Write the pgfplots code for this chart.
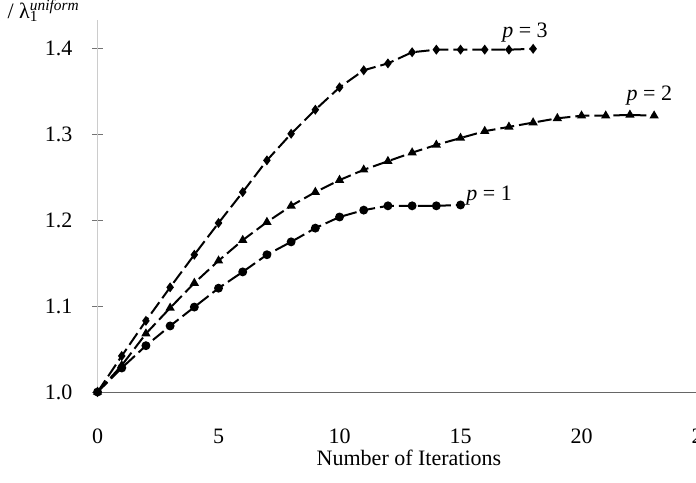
\documentclass[border=0pt]{standalone}
\usepackage{fontspec}
\setmainfont{Liberation Serif}
\usepackage{pgfplots}
\pgfplotsset{compat=1.18}
\begin{document}
\fontsize{11}{13}\selectfont
\begin{tikzpicture}
\begin{axis}[
  x=12.1pt, y=429pt,
  xmin=0, xmax=25, ymin=1, ymax=1.4336,
  axis x line*=bottom, axis y line*=left,
  x axis line style={black!60, line width=0.5pt},
  y axis line style={black!20, line width=0.4pt},
  xtick={0,5,10,15,20,25}, ytick={1.0,1.1,1.2,1.3,1.4},
  tick align=center, major tick length=5.5pt,
  xtick style={draw=none},
  ytick style={black!55, line width=0.5pt},
  xticklabel style={anchor=base, yshift=-23pt},
  yticklabel style={anchor=east, xshift=-6pt, /pgf/number format/.cd, fixed, fixed zerofill, precision=1},
  /pgf/number format/assume math mode=true,
  xlabel={Number of Iterations},
  xlabel style={at={(axis cs:12.87,0.9149)}, anchor=base},
  clip=false,
]
\addplot[black, line width=1pt, dash pattern=on 7pt off 2.5pt, mark=diamond*, mark size=1.7pt, mark options={solid}] coordinates {
(0,1.0) (1,1.042) (2,1.083) (3,1.122) (4,1.160) (5,1.197) (6,1.233) (7,1.270) (8,1.301) (9,1.329) (10,1.355) (11,1.375) (12,1.383) (13,1.396) (14,1.399) (15,1.399) (16,1.399) (17,1.399) (18,1.400)
};
\addplot[black, line width=1pt, dash pattern=on 7pt off 2.5pt, mark=triangle*, mark size=1.7pt, mark options={solid}] coordinates {
(0,1.0) (1,1.031) (2,1.068) (3,1.098) (4,1.127) (5,1.153) (6,1.177) (7,1.198) (8,1.217) (9,1.233) (10,1.247) (11,1.259) (12,1.269) (13,1.279) (14,1.288) (15,1.296) (16,1.304) (17,1.309) (18,1.314) (19,1.319) (20,1.322) (21,1.322) (22,1.323) (23,1.322)
};
\addplot[black, line width=1pt, dash pattern=on 7pt off 2.5pt, mark=*, mark size=1.7pt, mark options={solid}] coordinates {
(0,1.0) (1,1.028) (2,1.054) (3,1.077) (4,1.099) (5,1.121) (6,1.140) (7,1.160) (8,1.175) (9,1.191) (10,1.204) (11,1.212) (12,1.217) (13,1.217) (14,1.217) (15,1.218)
};
\node[anchor=base west, inner sep=0pt] at (axis cs:16.71,1.4137) {\textit{p} = 3};
\node[anchor=base west, inner sep=0pt] at (axis cs:21.85,1.3395) {\textit{p} = 2};
\node[anchor=base west, inner sep=0pt] at (axis cs:15.23,1.2236) {\textit{p} = 1};
\node[anchor=base east, inner sep=0pt] at (axis cs:-0.72,1.4359) {λ\textsubscript{1} / λ\rlap{\textsubscript{1}}\textsuperscript{\textit{uniform}}};
\coordinate (bbl) at (axis cs:-4.03,0.8951);
\coordinate (btr) at (axis cs:24.73,1.4569);
\end{axis}
\pgfresetboundingbox
\useasboundingbox (bbl) rectangle (btr);
\end{tikzpicture}
\end{document}
